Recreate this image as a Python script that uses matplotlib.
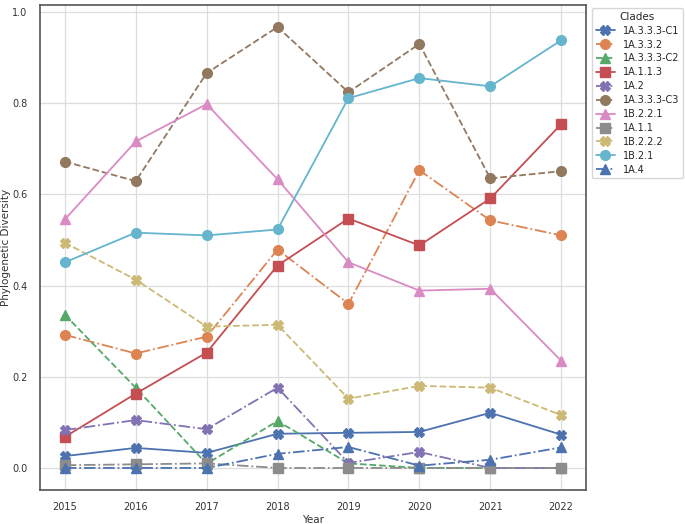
import matplotlib
matplotlib.use("Agg")
import matplotlib.pyplot as plt
import seaborn as sns

years = [2015, 2016, 2017, 2018, 2019, 2020, 2021, 2022]
clades = ["1A.3.3.3-C1", "1A.3.3.2", "1A.3.3.3-C2", "1A.1.1.3", "1A.2",
          "1A.3.3.3-C3", "1B.2.2.1", "1A.1.1", "1B.2.2.2", "1B.2.1", "1A.4"]

c1 = [0.026, 0.044, 0.033, 0.075, 0.077, 0.079, 0.121, 0.073]
a3332 = [0.292, 0.251, 0.288, 0.479, 0.360, 0.653, 0.543, 0.510]
c2 = [0.336, 0.176, 0.009, 0.103, 0.010, 0.0, 0.0, 0.0]
a1113 = [0.068, 0.163, 0.253, 0.444, 0.547, 0.488, 0.591, 0.754]
a2 = [0.083, 0.105, 0.085, 0.176, 0.011, 0.035, 0.0, 0.0]
c3 = [0.672, 0.629, 0.866, 0.967, 0.824, 0.930, 0.635, 0.651]
b221 = [0.545, 0.716, 0.798, 0.633, 0.451, 0.389, 0.393, 0.235]
a111 = [0.006, 0.008, 0.010, 0.0, 0.0, 0.0, 0.0, 0.0]
b222 = [0.494, 0.413, 0.310, 0.314, 0.152, 0.180, 0.176, 0.116]
b21 = [0.451, 0.516, 0.510, 0.523, 0.811, 0.855, 0.837, 0.938]
a4 = [0.0, 0.0, 0.0, 0.031, 0.046, 0.005, 0.018, 0.045]

series = [c1, a3332, c2, a1113, a2, c3, b221, a111, b222, b21, a4]

sns.set_theme(style="whitegrid")
plt.rcParams['font.family'] = ['DejaVu Sans']

palette = sns.color_palette("deep", 10)
markers = ['X', 'o', '^', 's']
styles = ['-', '-.', '--']

fig = plt.figure(figsize=(6.85, 5.24), dpi=100)
ax = fig.add_axes([40/685, 1 - 490/524, (586-40)/685, (490-5)/524])

for i, (name, vals) in enumerate(zip(clades, series)):
    ax.plot(years, vals, linestyle=styles[i % 3], marker=markers[i % 4],
            color=palette[i % 10], markersize=7, linewidth=1.3, label=name)

ax.set_xlabel("Year", fontsize=7.5, color='#333333', labelpad=2)
ax.set_ylabel("Phylogenetic Diversity", fontsize=7.5, color='#333333', labelpad=1)
ax.tick_params(axis='both', labelsize=7, colors='#333333', pad=3)
ax.set_xticks(years)
ax.set_yticks([0.0, 0.2, 0.4, 0.6, 0.8, 1.0])
ax.set_yticklabels(["0.0", "0.2", "0.4", "0.6", "0.8", "1.0"])
for sp in ax.spines.values():
    sp.set_color('#555555')
    sp.set_linewidth(1.2)
ax.grid(True, color='#dddddd', linewidth=0.9)

leg = ax.legend(title="Clades", loc='upper left', bbox_to_anchor=(1.005, 1.0),
                fontsize=7, title_fontsize=7.5, frameon=True, borderaxespad=0.3,
                handlelength=2.0, labelspacing=0.4)
leg.get_frame().set_edgecolor('#cccccc')

fig.savefig("out.png", dpi=100)
